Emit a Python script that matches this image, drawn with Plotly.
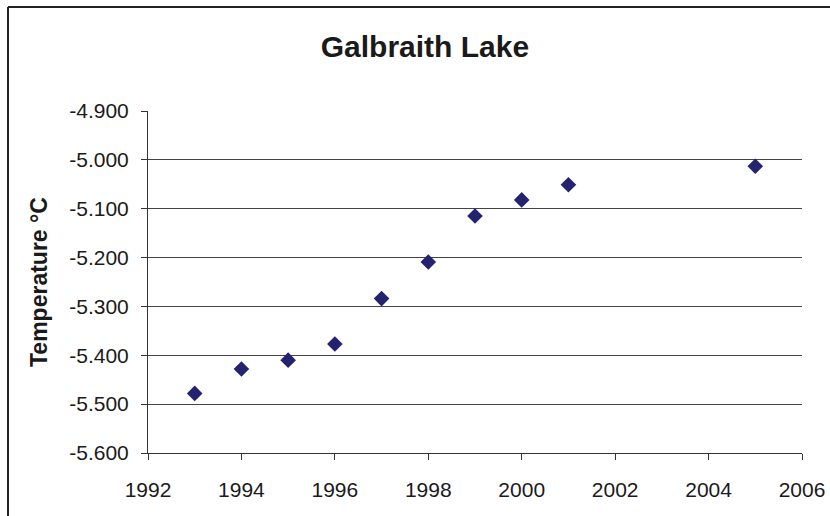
import plotly.graph_objects as go

# Annual mean air temperature, Galbraith Lake
years = [1993, 1994, 1995, 1996, 1997, 1998, 1999, 2000, 2001, 2005]
temps = [-5.478, -5.428, -5.410, -5.377, -5.284, -5.209, -5.115, -5.082, -5.051, -5.013]

x_ticks = [1992, 1994, 1996, 1998, 2000, 2002, 2004, 2006]
y_ticks = [-4.9, -5.0, -5.1, -5.2, -5.3, -5.4, -5.5, -5.6]
y_tick_text = ["-4.900", "-5.000", "-5.100", "-5.200", "-5.300", "-5.400", "-5.500", "-5.600"]

FONT = "Liberation Sans, Arial, sans-serif"
INK = "#1a1a1a"

fig = go.Figure(
    go.Scatter(
        x=years, y=temps, mode="markers",
        marker=dict(symbol="diamond", size=12, color="#232370",
                    line=dict(width=0)),
        cliponaxis=False,
    )
)

# paper-coordinate helpers for the frame around the chart
def px_x(p):
    return (p - 148.0) / 654.0

def px_y(p):
    return (453.0 - p) / 342.0

fig.update_layout(
    width=830, height=516,
    margin=dict(l=148, r=28, t=111, b=63),
    paper_bgcolor="white", plot_bgcolor="white",
    showlegend=False,
    font=dict(family=FONT, color=INK, size=21),
    title=dict(text="<b>Galbraith Lake</b>", x=0.512, xanchor="center",
               y=1 - 46 / 516, yanchor="middle", yref="container",
               font=dict(family=FONT, size=30, color=INK)),
    xaxis=dict(range=[1992, 2006], tickvals=x_ticks, ticks="outside", ticklen=6,
               tickcolor="#333", showgrid=False, showline=True, linecolor="#333",
               linewidth=1, zeroline=False, tickfont=dict(size=21),
               ticklabelstandoff=12, automargin=False),
    yaxis=dict(range=[-5.6, -4.9], tickvals=y_ticks, ticktext=y_tick_text,
               ticks="outside", ticklen=6, tickcolor="#333", showgrid=True,
               gridcolor="#444", gridwidth=1, showline=True, linecolor="#333",
               linewidth=1, zeroline=False, tickfont=dict(size=21),
               ticklabelstandoff=8, automargin=False),
    annotations=[dict(text="<b>Temperature °C</b>", textangle=-90,
                      xref="paper", yref="paper", x=px_x(39), y=px_y(282),
                      xanchor="center", yanchor="middle", showarrow=False,
                      font=dict(family=FONT, size=23, color=INK))],
    shapes=[
        dict(type="line", xref="paper", yref="paper",
             x0=px_x(8), x1=px_x(8), y0=px_y(7), y1=px_y(516),
             line=dict(color="#222", width=2), layer="below"),
        dict(type="line", xref="paper", yref="paper",
             x0=px_x(8), x1=px_x(830), y0=px_y(7), y1=px_y(7),
             line=dict(color="#222", width=2), layer="below"),
    ],
)

fig.write_html("out.html", config={"displayModeBar": False})
